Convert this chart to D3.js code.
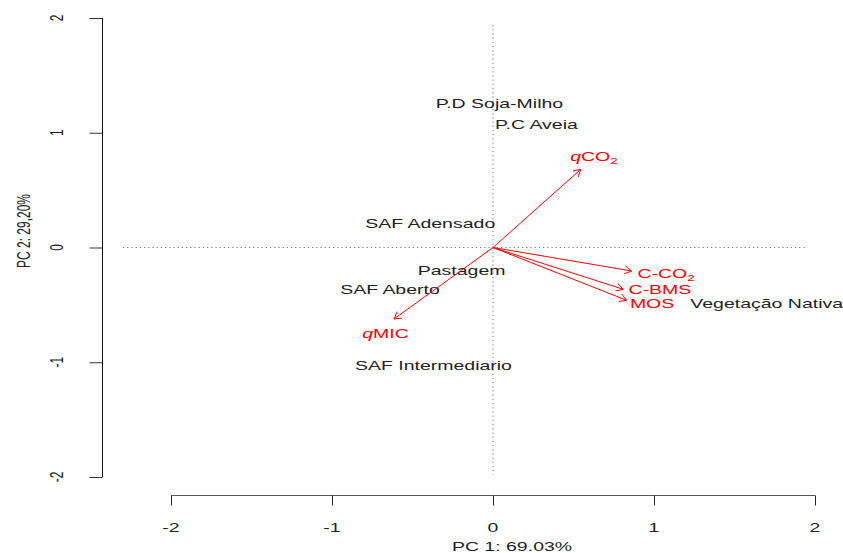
<!DOCTYPE html>
<html>
<head>
<meta charset="utf-8">
<script src="https://cdn.jsdelivr.net/npm/d3@7/dist/d3.min.js"></script>
<style>
  html, body { margin: 0; padding: 0; background: #fff; }
  svg { display: block; }
  text { font-family: "Liberation Sans", Arial, Helvetica, sans-serif; }
</style>
</head>
<body>
<svg id="chart" width="843" height="553"></svg>
<script>
// ---- data (PCA biplot scores and loadings, in PC units) ----
const sampleNames = ["P.D Soja-Milho", "P.C Aveia", "SAF Adensado", "Pastagem", "SAF Aberto", "SAF Intermediario", "Vegetação Nativa"];
const sampleX = [0.04, 0.27, -0.39, -0.195, -0.64, -0.37, 1.70];
const sampleY = [1.257, 1.077, 0.21, -0.196, -0.365, -1.03, -0.485];

const varNames = ["qCO2", "C-CO2", "C-BMS", "MOS", "qMIC"];
const varX = [0.545, 0.861, 0.809, 0.830, -0.615];
const varY = [0.681, -0.205, -0.364, -0.460, -0.623];
const varLabelX = [0.627, 1.075, 1.037, 0.988, -0.668];
const varLabelY = [0.791, -0.222, -0.362, -0.490, -0.745];

const xTicks = [-2, -1, 0, 1, 2];
const yTicks = [-2, -1, 0, 1, 2];
const xTitle = "PC 1: 69.03%";
const yTitle = "PC 2: 29,20%";
const hRefRange = [-2.298, 1.938];   // extent of dotted horizontal zero line
const vRefRange = [-1.983, 1.939];   // extent of dotted vertical zero line

// ---- layout ----
const svg = d3.select("#chart");
const x = d3.scaleLinear().domain([-2, 2]).range([171, 815]);
const y = d3.scaleLinear().domain([-2, 2]).range([477, 18]);
const HS = 1.5;          // horizontal stretch of the source picture
const FS = 13;           // font size of horizontal text
const RFS = 12;          // font size of rotated text
const CAP = 4.65;        // half cap height -> baseline offset from centre
const black = "#222";
const red = "#ff0000";

function hText(parent, cx, cy, color) {
  return parent.append("text")
    .attr("transform", `translate(${cx},${cy + CAP}) scale(${HS},1)`)
    .attr("text-anchor", "middle")
    .attr("font-size", FS)
    .attr("fill", color);
}
function vText(parent, bx, cy, color) {
  return parent.append("text")
    .attr("transform", `translate(${bx},${cy}) scale(${HS},1) rotate(-90)`)
    .attr("text-anchor", "middle")
    .attr("font-size", RFS)
    .attr("fill", color);
}

// dotted zero lines
svg.append("line")
  .attr("x1", x(hRefRange[0])).attr("x2", x(hRefRange[1]))
  .attr("y1", y(0)).attr("y2", y(0))
  .attr("stroke", "#777").attr("stroke-width", 1).attr("stroke-dasharray", "1.2,3");
svg.append("line")
  .attr("x1", x(0)).attr("x2", x(0))
  .attr("y1", y(vRefRange[1])).attr("y2", y(vRefRange[0]))
  .attr("stroke", "#777").attr("stroke-width", 1).attr("stroke-dasharray", "1.2,3");

// x axis
const xAxisY = 495.5;
const xAxis = d3.axisBottom(x).tickValues(xTicks).tickSize(10).tickFormat("");
const gx = svg.append("g").attr("transform", `translate(0,${xAxisY})`).call(xAxis);
gx.select(".domain").attr("stroke", "#555").attr("stroke-width", 1.2).attr("d", `M${x(-2)},0H${x(2)}`);
gx.selectAll(".tick line").attr("stroke", "#222");
xTicks.forEach(t => hText(svg, x(t), 527, black).text(String(t)));

// y axis
const yAxisX = 102.5;
const yAxis = d3.axisLeft(y).tickValues(yTicks).tickSize(13).tickFormat("");
const gy = svg.append("g").attr("transform", `translate(${yAxisX},0)`).call(yAxis);
gy.select(".domain").attr("stroke", "#111").attr("d", `M0,${y(2)}V${y(-2)}`);
gy.selectAll(".tick line").attr("stroke", "#333");
yTicks.forEach(t => vText(svg, 63, y(t), black).text(String(t)));

// axis titles
hText(svg, 512, 546.5, black).text(xTitle);
vText(svg, 30, 231, black).text(yTitle);

// sample labels
sampleNames.forEach((n, i) => {
  hText(svg, x(sampleX[i]), y(sampleY[i]), black).text(n);
});

// loading arrows
const ox = x(0), oy = y(0);
const HEAD = 8, ANG = Math.PI / 6;
varNames.forEach((n, i) => {
  const tx = x(varX[i]), ty = y(varY[i]);
  const g = svg.append("g").attr("stroke", red).attr("stroke-width", 1).attr("fill", "none");
  g.append("line").attr("x1", ox).attr("y1", oy).attr("x2", tx).attr("y2", ty);
  const a = Math.atan2(ty - oy, tx - ox);
  const p1 = [tx - HEAD * Math.cos(a - ANG), ty - HEAD * Math.sin(a - ANG)];
  const p2 = [tx - HEAD * Math.cos(a + ANG), ty - HEAD * Math.sin(a + ANG)];
  g.append("path").attr("d", `M${p1[0]},${p1[1]}L${tx},${ty}L${p2[0]},${p2[1]}`);
});

// loading labels (italic q, subscript 2)
varNames.forEach((n, i) => {
  const t = hText(svg, x(varLabelX[i]), y(varLabelY[i]), red);
  let s = n;
  if (s.startsWith("q")) {
    t.append("tspan").attr("font-style", "italic").text("q");
    s = s.slice(1);
  }
  if (s.endsWith("2")) {
    t.append("tspan").text(s.slice(0, -1));
    t.append("tspan").attr("font-size", 9).attr("dy", 3).text("2");
  } else {
    t.append("tspan").text(s);
  }
});
</script>
</body>
</html>
